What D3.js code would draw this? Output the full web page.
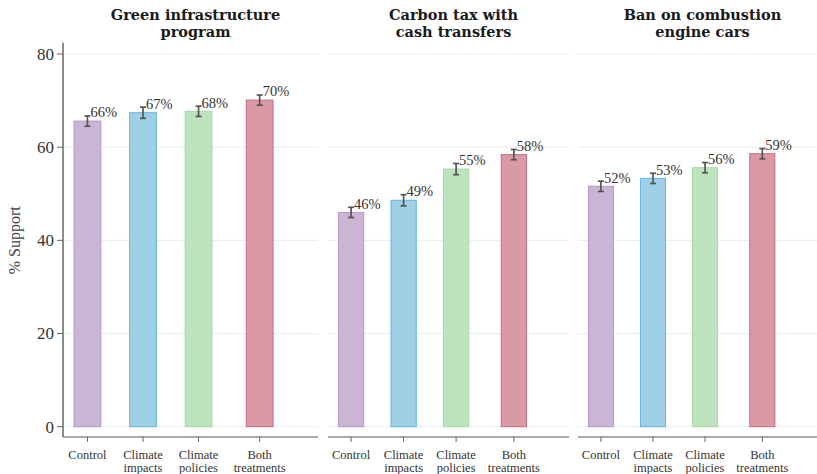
<!DOCTYPE html>
<html>
<head>
<meta charset="utf-8">
<script src="https://cdn.jsdelivr.net/npm/d3@7/dist/d3.min.js"></script>
<style>
  html, body { margin: 0; padding: 0; background: #fff; }
  svg { display: block; }
</style>
</head>
<body>
<svg id="chart" width="817" height="474"></svg>
<script>
// Treatment groups shown in every panel
const categories = ["Control", "Climate impacts", "Climate policies", "Both treatments"];
const categoryLines = [["Control"], ["Climate", "impacts"], ["Climate", "policies"], ["Both", "treatments"]];

// Panel titles (two lines each)
const policyTitles = [
  ["Green infrastructure", "program"],
  ["Carbon tax with", "cash transfers"],
  ["Ban on combustion", "engine cars"]
];

// % support per treatment group, one array per policy
const greenInfra = [65.6, 67.4, 67.7, 70.1];
const carbonTax = [46.0, 48.6, 55.3, 58.4];
const combustionBan = [51.6, 53.3, 55.6, 58.6];

// Half-width of the 95% confidence interval, percentage points
const greenInfraCI = [1.1, 1.2, 1.1, 1.1];
const carbonTaxCI = [1.1, 1.2, 1.2, 1.1];
const combustionBanCI = [1.1, 1.1, 1.1, 1.1];

const yTicks = [0, 20, 40, 60, 80];

const fills = ["#ccb5d4", "#9dd0e4", "#bde3bf", "#d999a5"];
const strokes = ["#b898c6", "#62b6df", "#a6d8a7", "#c56d80"];

const panels = [
  { title: policyTitles[0], values: greenInfra, ci: greenInfraCI, range: [63, 318] },
  { title: policyTitles[1], values: carbonTax, ci: carbonTaxCI, range: [328, 569] },
  { title: policyTitles[2], values: combustionBan, ci: combustionBanCI, range: [578, 817] }
];

const svg = d3.select("#chart");
const serif = "'Liberation Serif', 'Times New Roman', serif";

const y = d3.scaleLinear().domain([0, 80]).range([426.7, 54]);
const axisY = 437;

// Category slots: the last group sits a little further out
const slot = d3.scaleOrdinal().domain(categories).range([0, 1, 2, 3.1]);

panels.forEach((p, pi) => {
  const x = d3.scaleLinear().domain([-0.44, 4.15]).range(p.range);
  const cx = c => x(slot(c));
  const barW = x(0.5) - x(0);
  const g = svg.append("g");

  // gridlines
  g.selectAll("line.grid").data(yTicks).join("line")
    .attr("x1", p.range[0]).attr("x2", p.range[1])
    .attr("y1", d => y(d)).attr("y2", d => y(d))
    .attr("stroke", "#e4eef0").attr("stroke-width", 1);

  // bars
  const rows = categories.map((c, i) => ({ c, i, v: p.values[i], e: p.ci[i] }));
  g.selectAll("rect.bar").data(rows).join("rect")
    .attr("x", d => cx(d.c) - barW / 2 + 0.5)
    .attr("width", barW - 1)
    .attr("y", d => y(d.v))
    .attr("height", d => y(0) - y(d.v))
    .attr("fill", d => fills[d.i])
    .attr("stroke", d => strokes[d.i])
    .attr("stroke-width", 1);

  // confidence intervals
  const eb = g.selectAll("g.eb").data(rows).join("g")
    .attr("stroke", "#555").attr("stroke-width", 1.7);
  eb.append("line")
    .attr("x1", d => cx(d.c)).attr("x2", d => cx(d.c))
    .attr("y1", d => y(d.v - d.e)).attr("y2", d => y(d.v + d.e));
  eb.append("line")
    .attr("x1", d => cx(d.c) - 3).attr("x2", d => cx(d.c) + 3)
    .attr("y1", d => y(d.v + d.e)).attr("y2", d => y(d.v + d.e));
  eb.append("line")
    .attr("x1", d => cx(d.c) - 3).attr("x2", d => cx(d.c) + 3)
    .attr("y1", d => y(d.v - d.e)).attr("y2", d => y(d.v - d.e));

  // value labels
  g.selectAll("text.val").data(rows).join("text")
    .attr("x", d => cx(d.c) + 3)
    .attr("y", d => y(d.v + d.e) + 1.5)
    .attr("font-family", serif).attr("font-size", 14.5).attr("fill", "#333")
    .text(d => d3.format(".0f")(d.v) + "%");

  // x axis
  g.append("line")
    .attr("x1", p.range[0]).attr("x2", p.range[1])
    .attr("y1", axisY).attr("y2", axisY)
    .attr("stroke", "#8c8c8c").attr("stroke-width", 1.5);
  g.selectAll("line.xt").data(categories).join("line")
    .attr("x1", cx).attr("x2", cx)
    .attr("y1", axisY).attr("y2", axisY + 5)
    .attr("stroke", "#666").attr("stroke-width", 1);

  // category labels, one text element per line
  const labelLines = [];
  categories.forEach((c, i) => categoryLines[i].forEach((t, k) => labelLines.push({ c, t, k })));
  g.selectAll("text.xl").data(labelLines).join("text")
    .attr("x", d => cx(d.c))
    .attr("y", d => 459 + d.k * 12.5)
    .attr("text-anchor", "middle")
    .attr("font-family", serif).attr("font-size", 12.5).attr("fill", "#333")
    .text(d => d.t);

  // panel title
  const mid = (p.range[0] + p.range[1]) / 2 + 5;
  g.selectAll("text.title").data(p.title).join("text")
    .attr("x", mid).attr("y", (t, k) => 19.5 + k * 17)
    .attr("text-anchor", "middle")
    .attr("font-family", "'DejaVu Serif', serif").attr("font-weight", "bold")
    .attr("font-size", 14.5).attr("fill", "#1a1a1a")
    .text(t => t);

  // y axis only on the first panel
  if (pi === 0) {
    g.append("line")
      .attr("x1", p.range[0]).attr("x2", p.range[0])
      .attr("y1", y(82.4)).attr("y2", axisY)
      .attr("stroke", "#666").attr("stroke-width", 1.5);
    g.selectAll("line.yt").data(yTicks).join("line")
      .attr("x1", p.range[0] - 6).attr("x2", p.range[0])
      .attr("y1", d => y(d)).attr("y2", d => y(d))
      .attr("stroke", "#666").attr("stroke-width", 1);
    g.selectAll("text.yl").data(yTicks).join("text")
      .attr("x", p.range[0] - 9)
      .attr("y", d => y(d))
      .attr("dy", "0.35em")
      .attr("text-anchor", "end")
      .attr("font-family", serif).attr("font-size", 17).attr("fill", "#333")
      .text(d => d);
    g.append("text")
      .attr("transform", `translate(20, ${(y(0) + y(80)) / 2}) rotate(-90)`)
      .attr("text-anchor", "middle")
      .attr("font-family", serif).attr("font-size", 16).attr("fill", "#444")
      .text("% Support");
  }
});
</script>
</body>
</html>
